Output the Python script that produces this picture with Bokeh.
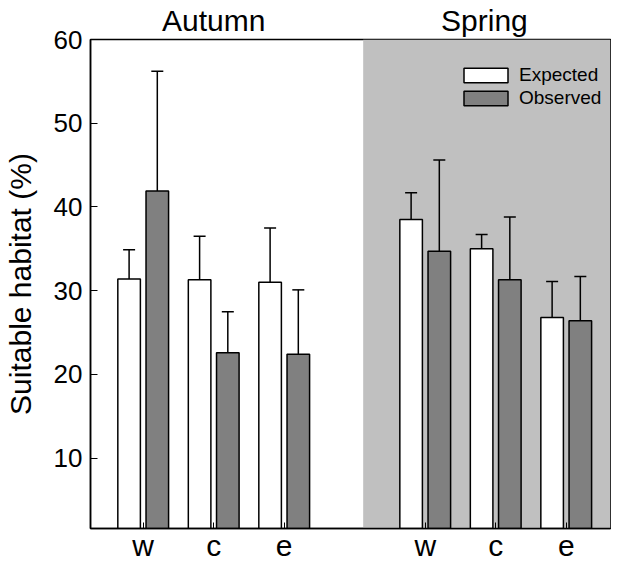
from bokeh.plotting import figure
from bokeh.models import (ColumnDataSource, BoxAnnotation, Whisker, TeeHead,
                          FixedTicker, Range1d, Legend, LegendItem, LinearAxis)
from bokeh.embed import file_html
from bokeh.resources import INLINE

# ---- data ----
seasons = ["Autumn", "Spring"]
season_label_x = [2.0, 5.84]
sites = ["w", "c", "e"]
expected_mean = {"Autumn": [31.4, 31.3, 31.0], "Spring": [38.5, 35.0, 26.8]}
expected_err = {"Autumn": [3.5, 5.2, 6.5], "Spring": [3.2, 1.7, 4.3]}
observed_mean = {"Autumn": [41.9, 22.6, 22.4], "Spring": [34.7, 31.3, 26.4]}
observed_err = {"Autumn": [14.3, 4.9, 7.7], "Spring": [10.9, 7.5, 5.3]}
y_ticks = [10, 20, 30, 40, 50, 60]

FONT = "Liberation Sans"
OFF = 0.2
BW = 0.32

centers, labels = [], []
ex, ey, eu = [], [], []
ox, oy, ou = [], [], []
for gi, s in enumerate(seasons):
    for si, site in enumerate(sites):
        c = gi * (len(sites) + 1) + si + 1
        centers.append(c)
        labels.append(site)
        ex.append(c - OFF); ey.append(expected_mean[s][si]); eu.append(expected_mean[s][si] + expected_err[s][si])
        ox.append(c + OFF); oy.append(observed_mean[s][si]); ou.append(observed_mean[s][si] + observed_err[s][si])

src_e = ColumnDataSource(dict(x=ex, top=ey, upper=eu))
src_o = ColumnDataSource(dict(x=ox, top=oy, upper=ou))

p = figure(width=611, height=564, output_backend="svg", toolbar_location=None,
           x_range=Range1d(0.2525, 7.628), y_range=Range1d(1.6, 60),
           min_border_left=90, min_border_right=1, min_border_top=30, min_border_bottom=20)
p.xgrid.visible = False
p.ygrid.visible = False
p.outline_line_color = "black"
p.outline_line_width = 1.5
p.background_fill_color = "white"
p.border_fill_color = "white"

p.add_layout(BoxAnnotation(left=4.12, fill_color="#c0c0c0", fill_alpha=1.0,
                           line_alpha=0, level="underlay"))

r_e = p.vbar(x="x", top="top", bottom=0, width=BW, source=src_e,
             fill_color="white", line_color="black", line_width=1.5)
r_o = p.vbar(x="x", top="top", bottom=0, width=BW, source=src_o,
             fill_color="#808080", line_color="black", line_width=1.5)

for src in (src_e, src_o):
    w = Whisker(base="x", lower="top", upper="upper", source=src,
                line_color="black", line_width=1.5,
                upper_head=TeeHead(size=12, line_color="black", line_width=1.5),
                lower_head=None)
    p.add_layout(w)

# bottom axis
p.xaxis.ticker = FixedTicker(ticks=centers)
p.xaxis.major_label_overrides = {c: l for c, l in zip(centers, labels)}
p.xaxis.major_tick_in = 6
p.xaxis.major_tick_out = 0
p.xaxis.minor_tick_line_color = None
p.xaxis.major_label_text_font = FONT
p.xaxis.major_label_text_font_size = "30px"
p.xaxis.major_label_text_color = "black"
p.xaxis.major_label_standoff = 0
p.xaxis.axis_line_width = 1.5

# left axis
p.yaxis.ticker = FixedTicker(ticks=y_ticks)
p.yaxis.major_tick_in = 7
p.yaxis.major_tick_out = 0
p.yaxis.minor_tick_line_color = None
p.yaxis.major_label_text_font = FONT
p.yaxis.major_label_text_font_size = "26px"
p.yaxis.major_label_text_color = "black"
p.yaxis.major_label_standoff = 8
p.yaxis.axis_line_width = 1.5
p.yaxis.axis_label = "Suitable habitat (%)"
p.yaxis.axis_label_text_font = FONT
p.yaxis.axis_label_text_font_size = "30px"
p.yaxis.axis_label_text_font_style = "normal"
p.yaxis.axis_label_text_color = "black"
p.yaxis.axis_label_standoff = 14

# season headings as a top axis
top_ax = LinearAxis(ticker=FixedTicker(ticks=season_label_x),
                    major_label_overrides={x: s for x, s in zip(season_label_x, seasons)},
                    axis_line_color=None, major_tick_line_color=None,
                    minor_tick_line_color=None, major_tick_in=0, major_tick_out=0,
                    minor_tick_in=0, minor_tick_out=0,
                    major_label_text_font=FONT, major_label_text_font_size="30px",
                    major_label_text_color="black", major_label_standoff=3)
p.add_layout(top_ax, "above")

legend = Legend(items=[LegendItem(label="Expected", renderers=[r_e]),
                       LegendItem(label="Observed", renderers=[r_o])],
                location=(368, 419), orientation="vertical",
                glyph_width=55, glyph_height=18, label_height=18, label_standoff=6,
                spacing=1, padding=0, margin=0,
                label_text_font=FONT, label_text_font_size="19px", label_text_color="black",
                background_fill_alpha=0, border_line_alpha=0)
p.add_layout(legend)

open("out.html", "w").write(file_html(p, INLINE))
